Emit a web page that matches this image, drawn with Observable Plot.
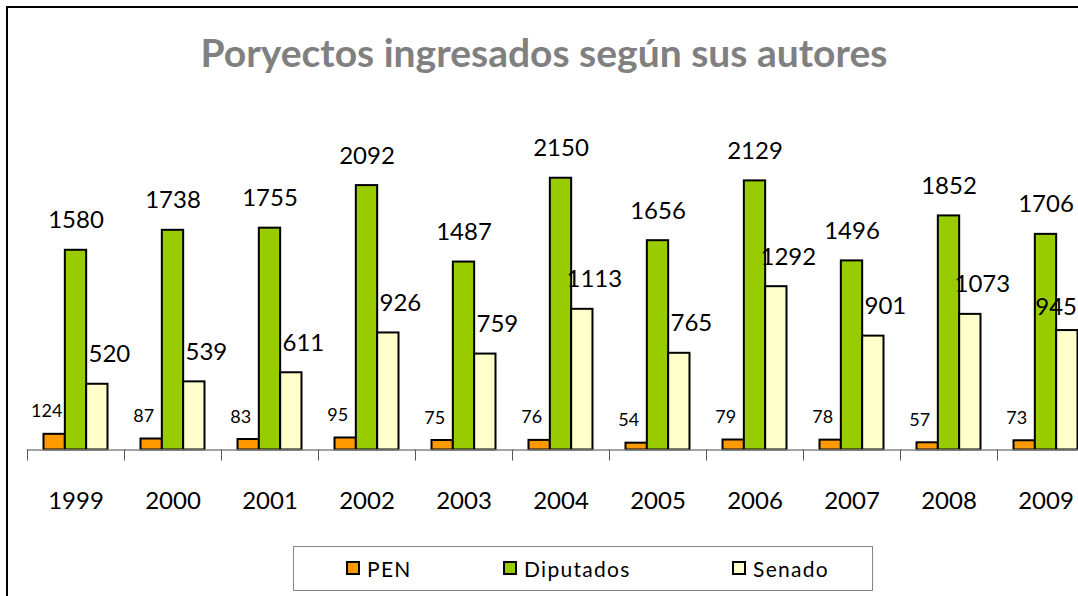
<!DOCTYPE html>
<html><head><meta charset="utf-8">
<script src="https://cdn.jsdelivr.net/npm/d3@7"></script>
<script src="https://cdn.jsdelivr.net/npm/@observablehq/plot@0.6"></script>
<style>
body{margin:0;background:#fff;overflow:hidden}
#wrap{position:relative;width:1078px;height:596px;overflow:hidden;font-family:Lato,"Open Sans",sans-serif;background:#fff}
#frame{position:absolute;left:6px;top:6px;width:1200px;height:700px;border:2px solid #000;box-sizing:border-box}
#title{position:absolute;left:0;width:1088px;top:32px;text-align:center;font-weight:bold;font-size:39px;color:#808080;line-height:40px}
#chart{position:absolute;left:0;top:0;width:1100px;height:596px}
#chart svg{max-width:none !important}
#legend{position:absolute;left:293px;top:546px;width:580px;height:45px;border:1.5px solid #868686;box-sizing:border-box}
.item{position:absolute;top:0;height:42px;display:flex;align-items:center;font-size:21px;letter-spacing:1.3px;color:#000}
.sw{width:10px;height:10px;border:2px solid #000;margin-right:7px}
</style></head>
<body>
<div id="wrap">
  <div id="frame"></div>
  <div id="title">Poryectos ingresados según sus autores</div>
  <div id="chart"></div>
  <div id="legend"></div>
</div>
<script>
const years = ["1999","2000","2001","2002","2003","2004","2005","2006","2007","2008","2009"];
const pen = [124,87,83,95,75,76,54,79,78,57,73];
const diputados = [1580,1738,1755,2092,1487,2150,1656,2129,1496,1852,1706];
const senado = [520,539,611,926,759,1113,765,1292,901,1073,945];
const seriesNames = ["PEN","Diputados","Senado"];
const seriesColors = ["#FF9900","#99CC00","#FFFFCC"];

const rows = years.map((y,i)=>({year:y, PEN:pen[i], Diputados:diputados[i], Senado:senado[i]}));

const W = 1100, mL = 27, mR = 6, H = 596, baseY = 449.5, mT = 133.5, yMax = 2500;
const bw = (W - mL - mR) / years.length;
const barW = 21.33;
const groupPad = (bw - 3 * barW) / 2;
const pxPerUnit = (baseY - mT) / yMax;
const tickLen = 11 / pxPerUnit;

const labelDx = [-8, 0, 12];
const labelDy = [-17, -22, -22];
const labelSize = [18, 24, 24];

const marks = [];
seriesNames.forEach((s,k)=>{
  marks.push(Plot.barY(rows, {x:"year", y:s, fill:seriesColors[k], stroke:"#000", strokeWidth:2,
    insetLeft: groupPad + k*barW, insetRight: bw - groupPad - (k+1)*barW}));
});
marks.push(Plot.ruleY([0], {stroke:"#868686", strokeWidth:1.5}));
marks.push(Plot.ruleX(years, {x:d=>d, y1:0, y2:-tickLen, dx:-bw/2, stroke:"#555", strokeWidth:1}));
const lastYear = years[years.length - 1];
seriesNames.forEach((s,k)=>{
  const cx = groupPad + (k+0.5)*barW - bw/2;
  const data = s === "Senado" ? rows.filter(d => d.year !== lastYear) : rows;
  marks.push(Plot.text(data, {x:"year", y:s, text:d=>String(d[s]), dx: cx + labelDx[k], dy: labelDy[k],
    lineAnchor:"bottom", fontSize: labelSize[k], fill:"#000", fontFamily:"Lato"}));
});
// last Senado label sits at the chart's cut-off right edge: keep it inside
marks.push(Plot.text(rows.filter(d => d.year === lastYear), {x:"year", y:"Senado", text:d=>String(d.Senado),
  dx: groupPad + 3*barW - bw/2 - 1, dy: -16, textAnchor:"end", lineAnchor:"bottom", fontSize:24, fill:"#000", fontFamily:"Lato"}));
marks.push(Plot.text(years, {x:d=>d, y:0, text:d=>d, dy:58.5, lineAnchor:"bottom", fontSize:24, fill:"#000", fontFamily:"Lato"}));

const chart = Plot.plot({
  width: W, height: H,
  marginLeft: mL, marginRight: mR, marginTop: mT, marginBottom: H - baseY,
  x: {type:"band", domain: years, padding: 0, axis: null},
  y: {domain:[0, yMax], axis: null},
  style: {background:"transparent", fontFamily:"Lato", maxWidth:"none"},
  marks
});
chart.style.maxWidth = "none";
chart.setAttribute("width", W);
chart.setAttribute("height", H);
document.getElementById("chart").appendChild(chart);

const legendX = [52, 209, 438];
const legend = document.getElementById("legend");
seriesNames.forEach((s,k)=>{
  const it = document.createElement("div");
  it.className = "item";
  it.style.left = legendX[k] + "px";
  it.innerHTML = `<div class="sw" style="background:${seriesColors[k]}"></div><span>${s}</span>`;
  legend.appendChild(it);
});
</script>
</body></html>
